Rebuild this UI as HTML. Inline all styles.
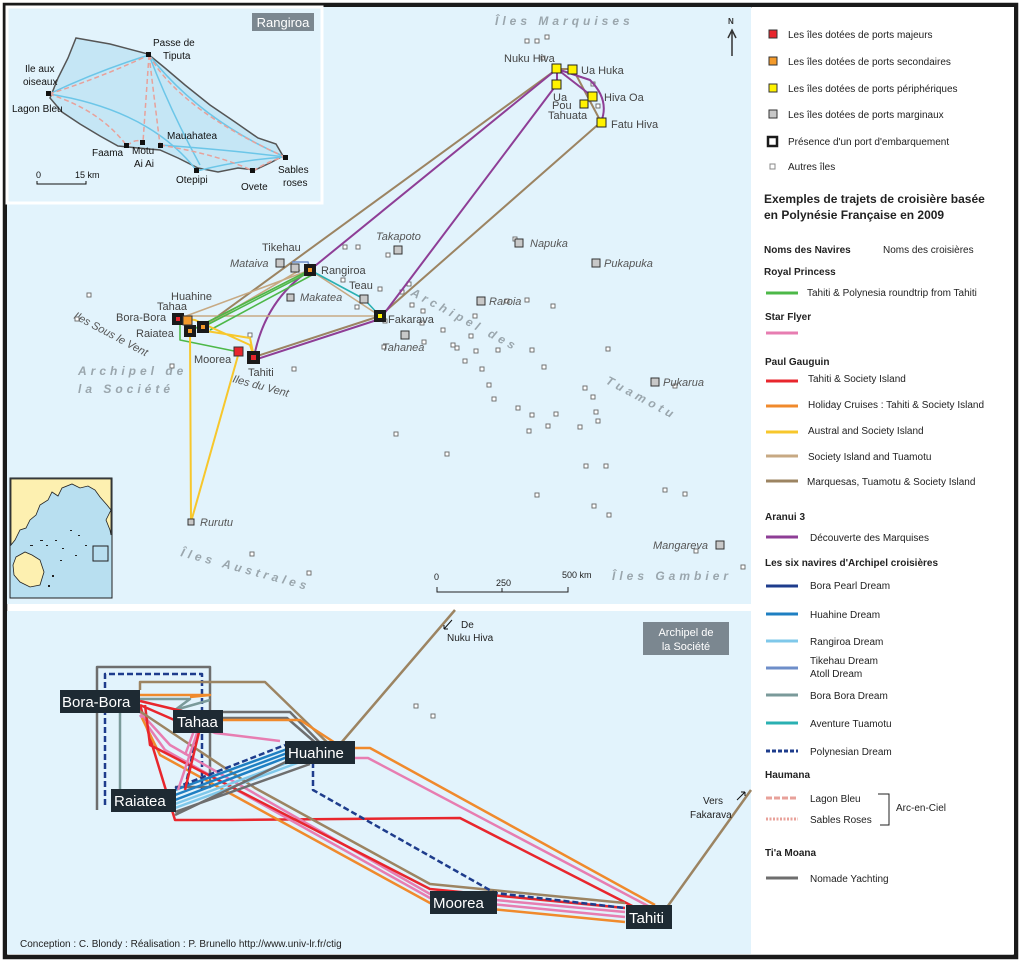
<!DOCTYPE html>
<html><head><meta charset="utf-8"><style>
html,body{margin:0;padding:0;background:#fff}
svg{display:block}
text{font-family:"Liberation Sans",sans-serif}
</style></head><body>
<svg width="1024" height="965" viewBox="0 0 1024 965" xmlns="http://www.w3.org/2000/svg">
<rect width="1024" height="965" fill="#fff"/>
<rect x="5" y="5" width="1011" height="952" fill="none" stroke="#1a1a1a" stroke-width="4.5"/>
<rect x="7" y="7" width="744" height="597" fill="#e2f3fc"/>
<rect x="7" y="611" width="744" height="343" fill="#e2f3fc"/>
<rect x="752" y="7" width="262" height="947" fill="#fff"/>

<!-- Rangiroa inset -->
<rect x="7" y="7" width="315" height="196" fill="#e2f3fc" stroke="#fff" stroke-width="3"/>
<path d="M76,38 L110,44 L148,54 L165,68 L185,85 L210,105 L235,122 L258,138 L276,144 L283,156 L272,162 L255,170 L238,168 L218,172 L198,168 L178,158 L160,150 L138,148 L118,146 L100,136 L80,124 L62,112 L50,98 L58,78 L68,58 Z" fill="#c5e6f5" stroke="#555" stroke-width="1.5"/>
<g fill="none" stroke="#6cc6e8" stroke-width="1.5">
<path d="M49,94 Q100,70 149,55"/><path d="M149,55 Q200,120 285,157"/><path d="M149,55 Q170,110 200,165"/>
<path d="M49,94 Q150,110 197,171"/><path d="M197,171 Q240,160 285,157"/><path d="M160,145 Q230,150 285,157"/>
</g>
<g fill="none" stroke="#e8a19a" stroke-width="1.5" stroke-dasharray="5,3">
<path d="M49,94 Q100,78 149,55"/><path d="M149,55 L143,142"/><path d="M149,55 L160,145"/><path d="M149,55 Q180,110 285,157"/>
<path d="M49,94 Q100,110 127,146"/><path d="M127,146 Q135,138 143,142"/><path d="M160,145 Q220,155 253,171"/><path d="M253,171 Q270,160 285,157"/>
</g>
<g fill="#111"><rect x="146" y="52" width="5" height="5"/><rect x="46" y="91" width="5" height="5"/><rect x="124" y="143" width="5" height="5"/><rect x="140" y="140" width="5" height="5"/><rect x="158" y="143" width="5" height="5"/><rect x="194" y="168" width="5" height="5"/><rect x="250" y="168" width="5" height="5"/><rect x="283" y="155" width="5" height="5"/></g>
<g font-size="10" fill="#111">
<text x="153" y="46">Passe de</text><text x="163" y="59">Tiputa</text>
<text x="25" y="72">Ile aux</text><text x="23" y="85">oiseaux</text>
<text x="12" y="112">Lagon Bleu</text>
<text x="167" y="139">Mauahatea</text>
<text x="92" y="156">Faama</text><text x="132" y="154">Motu</text><text x="134" y="167">Ai Ai</text>
<text x="176" y="183">Otepipi</text><text x="241" y="190">Ovete</text>
<text x="278" y="173">Sables</text><text x="283" y="186">roses</text>
<text x="36" y="178" font-size="9">0</text><text x="75" y="178" font-size="9">15 km</text>
</g>
<path d="M37,181 V184 H86 V181" fill="none" stroke="#111"/>
<rect x="252" y="13" width="62" height="18" fill="#7b8790"/>
<text x="283" y="27" font-size="13" fill="#fff" text-anchor="middle">Rangiroa</text>

<!-- Pacific inset -->
<rect x="10" y="478" width="102" height="120" fill="#b8dff0" stroke="#222"/>
<path d="M11,479 H111 V510 L107,505 L100,497 L95,490 L88,486 L80,488 L72,484 L62,488 L58,496 L52,492 L48,500 L40,505 L36,515 L30,520 L26,528 L20,530 L15,540 L11,545 Z" fill="#fdf0b0" stroke="#222" stroke-width="0.8"/>
<path d="M111,510 L106,520 L110,530 L111,535Z" fill="#fdf0b0" stroke="#222" stroke-width="0.8"/>
<path d="M16,557 L25,552 L32,555 L40,560 L44,572 L40,585 L30,587 L20,582 L14,575 L13,565Z" fill="#fdf0b0" stroke="#222" stroke-width="0.8"/>
<g fill="#222"><rect x="46" y="545" width="2" height="1"/><rect x="55" y="540" width="2" height="1"/><rect x="62" y="548" width="2" height="1"/><rect x="70" y="530" width="2" height="1"/><rect x="78" y="535" width="2" height="1"/><rect x="85" y="545" width="2" height="1"/><rect x="75" y="555" width="2" height="1"/><rect x="60" y="560" width="2" height="1"/><rect x="52" y="575" width="2" height="2"/><rect x="48" y="585" width="2" height="2"/><rect x="40" y="540" width="3" height="1"/><rect x="30" y="545" width="3" height="1"/></g>
<rect x="93" y="546" width="15" height="15" fill="none" stroke="#222"/>

<!-- top map text -->
<g font-size="12" fill="#9aa6ad" font-weight="bold" font-style="italic" letter-spacing="4">
<text x="495" y="25">Îles Marquises</text>
<text x="78" y="375">Archipel de</text><text x="78" y="393">la Société</text>
<text x="612" y="580">Îles Gambier</text>
<text x="180" y="556" transform="rotate(15 180 556)">Îles Australes</text>
<text x="410" y="295" transform="rotate(28 410 295)">Archipel des</text>
<text x="605" y="383" transform="rotate(28 605 383)">Tuamotu</text>
</g>
<g font-size="11" fill="#555" font-style="italic">
<text x="73" y="318" transform="rotate(28 73 318)">Iles Sous le Vent</text>
<text x="232" y="382" transform="rotate(15 232 382)">Iles du Vent</text>
</g>
<text x="728" y="24" font-size="8" font-weight="bold" fill="#333">N</text>
<path d="M732,56 V32 M728,38 L732,30 L736,38" stroke="#333" stroke-width="1.5" fill="none"/>
<path d="M437,587 V592 H568 V587 M502,588 V592" fill="none" stroke="#222"/>
<g font-size="9" fill="#222"><text x="434" y="580">0</text><text x="496" y="586">250</text><text x="562" y="578">500 km</text></g>

<g fill="#fff" stroke="#666" stroke-width="0.9">
<rect x="525" y="39" width="4" height="4"/><rect x="535" y="39" width="4" height="4"/><rect x="545" y="35" width="4" height="4"/>
<rect x="541" y="56" width="4" height="4"/><rect x="591" y="82" width="4" height="4"/><rect x="596" y="104" width="4" height="4"/>
<rect x="87" y="293" width="4" height="4"/><rect x="75" y="317" width="4" height="4"/><rect x="170" y="364" width="4" height="4"/>
<rect x="248" y="333" width="4" height="4"/><rect x="292" y="367" width="4" height="4"/><rect x="343" y="245" width="4" height="4"/><rect x="356" y="245" width="4" height="4"/>
<rect x="386" y="253" width="4" height="4"/><rect x="341" y="278" width="4" height="4"/><rect x="378" y="287" width="4" height="4"/><rect x="400" y="290" width="4" height="4"/>
<rect x="407" y="282" width="4" height="4"/><rect x="410" y="303" width="4" height="4"/><rect x="421" y="309" width="4" height="4"/><rect x="383" y="319" width="4" height="4"/>
<rect x="355" y="305" width="4" height="4"/><rect x="420" y="321" width="4" height="4"/><rect x="441" y="328" width="4" height="4"/><rect x="469" y="334" width="4" height="4"/>
<rect x="473" y="314" width="4" height="4"/><rect x="455" y="346" width="4" height="4"/><rect x="474" y="349" width="4" height="4"/><rect x="463" y="359" width="4" height="4"/>
<rect x="480" y="367" width="4" height="4"/><rect x="487" y="383" width="4" height="4"/><rect x="492" y="397" width="4" height="4"/><rect x="496" y="348" width="4" height="4"/>
<rect x="451" y="343" width="4" height="4"/><rect x="422" y="340" width="4" height="4"/><rect x="382" y="345" width="4" height="4"/><rect x="505" y="299" width="4" height="4"/>
<rect x="525" y="298" width="4" height="4"/><rect x="551" y="304" width="4" height="4"/><rect x="513" y="237" width="4" height="4"/><rect x="530" y="348" width="4" height="4"/>
<rect x="542" y="365" width="4" height="4"/><rect x="516" y="406" width="4" height="4"/><rect x="530" y="413" width="4" height="4"/><rect x="546" y="424" width="4" height="4"/>
<rect x="554" y="412" width="4" height="4"/><rect x="527" y="429" width="4" height="4"/><rect x="578" y="425" width="4" height="4"/><rect x="591" y="395" width="4" height="4"/>
<rect x="583" y="386" width="4" height="4"/><rect x="594" y="410" width="4" height="4"/><rect x="596" y="419" width="4" height="4"/><rect x="606" y="347" width="4" height="4"/>
<rect x="673" y="384" width="4" height="4"/><rect x="394" y="432" width="4" height="4"/><rect x="445" y="452" width="4" height="4"/><rect x="584" y="464" width="4" height="4"/>
<rect x="604" y="464" width="4" height="4"/><rect x="535" y="493" width="4" height="4"/><rect x="592" y="504" width="4" height="4"/><rect x="663" y="488" width="4" height="4"/>
<rect x="683" y="492" width="4" height="4"/><rect x="607" y="513" width="4" height="4"/><rect x="250" y="552" width="4" height="4"/><rect x="307" y="571" width="4" height="4"/>
<rect x="741" y="565" width="4" height="4"/><rect x="694" y="549" width="4" height="4"/><rect x="414" y="704" width="4" height="4"/><rect x="431" y="714" width="4" height="4"/>
</g>

<g fill="none" stroke-width="2" stroke-linejoin="round">
<path d="M203,327 L557,69" stroke="#9c8462"/>
<path d="M254,357 L380,316 L601,122" stroke="#9c8462"/>
<path d="M601,122 L573,69 L557,69" stroke="#9c8462"/>
<path d="M254,357 Q265,300 310,270 L557,69" stroke="#8e3e96"/>
<path d="M254,360 L380,319 L557,84 L557,69 L590,80 Q610,100 601,122 M557,69 L593,97" stroke="#8e3e96"/>
<path d="M178,319 L310,270 L380,316 L178,316 M190,331 L310,270 M203,327 L300,270" stroke="#c7a983" stroke-width="1.6"/>
<path d="M180,320 L180,340 L239,352 M190,331 L310,270 M203,327 L310,272 M210,330 L312,275" stroke="#4db848" stroke-width="1.6"/>
<path d="M190,331 L191,522 L239,352 M178,318 L195,320 L250,345 L254,357 M200,330 L250,338 L254,357" stroke="#f7c72c" stroke-width="2"/>
<path d="M310,270 L364,299 L380,316" stroke="#2ab0b2" stroke-width="1.6"/>
<path d="M292,262 L308,262 L310,270" stroke="#6e8ec9" stroke-width="1.6"/>
</g>
<g fill="#c8c8c8" stroke="#333" stroke-width="1">
<rect x="276" y="259" width="8" height="8"/><rect x="291" y="264" width="8" height="8"/><rect x="287" y="294" width="7" height="7"/>
<rect x="360" y="295" width="8" height="8"/><rect x="401" y="331" width="8" height="8"/><rect x="394" y="246" width="8" height="8"/>
<rect x="515" y="239" width="8" height="8"/><rect x="592" y="259" width="8" height="8"/><rect x="477" y="297" width="8" height="8"/>
<rect x="651" y="378" width="8" height="8"/><rect x="716" y="541" width="8" height="8"/><rect x="188" y="519" width="6" height="6"/>
</g>
<g fill="#fff200" stroke="#222" stroke-width="1">
<rect x="552" y="64" width="9" height="9"/><rect x="568" y="65" width="9" height="9"/><rect x="552" y="80" width="9" height="9"/>
<rect x="588" y="92" width="9" height="9"/><rect x="580" y="100" width="8" height="8"/><rect x="597" y="118" width="9" height="9"/>
</g>
<g fill="#1a1a1a"><rect x="304" y="264" width="12" height="12"/><rect x="374" y="310" width="12" height="12"/><rect x="172" y="313" width="12" height="12"/><rect x="184" y="325" width="12" height="12"/><rect x="197" y="321" width="12" height="12"/><rect x="247" y="351" width="13" height="13"/></g>
<g><rect x="308" y="268" width="4" height="4" fill="#f39a2b"/><rect x="378" y="314" width="4" height="4" fill="#fff200"/><rect x="176" y="317" width="4" height="4" fill="#e8262d"/><rect x="188" y="329" width="4" height="4" fill="#f39a2b"/><rect x="201" y="325" width="4" height="4" fill="#f39a2b"/><rect x="251" y="355" width="5" height="5" fill="#e8262d"/></g>
<rect x="183" y="316" width="9" height="9" fill="#f39a2b" stroke="#333"/>
<rect x="234" y="347" width="9" height="9" fill="#e8262d" stroke="#333"/>

<g font-size="11" fill="#444">
<text x="504" y="62">Nuku Hiva</text><text x="581" y="74">Ua Huka</text><text x="553" y="101">Ua</text><text x="552" y="109">Pou</text>
<text x="548" y="119">Tahuata</text><text x="604" y="101">Hiva Oa</text><text x="611" y="128">Fatu Hiva</text>
<text x="262" y="251">Tikehau</text><text x="321" y="274">Rangiroa</text><text x="349" y="289">Teau</text><text x="388" y="323">Fakarava</text>
<text x="171" y="300">Huahine</text><text x="157" y="310">Tahaa</text><text x="116" y="321">Bora-Bora</text><text x="136" y="337">Raiatea</text>
<text x="194" y="363">Moorea</text><text x="248" y="376">Tahiti</text>
</g>
<g font-size="11" fill="#555" font-style="italic">
<text x="230" y="267">Mataiva</text><text x="300" y="301">Makatea</text><text x="376" y="240">Takapoto</text><text x="530" y="247">Napuka</text>
<text x="604" y="267">Pukapuka</text><text x="489" y="305">Raroia</text><text x="382" y="351">Tahanea</text><text x="663" y="386">Pukarua</text>
<text x="653" y="549">Mangareva</text><text x="200" y="526">Rurutu</text>
</g>

<!-- bottom map -->
<g fill="none" stroke-width="2.5" stroke-linejoin="round">
<path d="M97,810 V667 H210 V787 H175" stroke="#6e6e6e"/>
<path d="M120,713 V805 H175" stroke="#7a9a9a"/>
<path d="M105,805 V674 H202 V790" stroke="#1e3c8c" stroke-dasharray="6,3"/>
<path d="M140,690 V682 H265 L335,750 L455,610" stroke="#9c8462"/>
<path d="M140,695 H210 L190,697" stroke="#f08a2c"/>
<path d="M222,712 H290 L325,748 M222,718 H287 L318,745" stroke="#6e6e6e"/>
<path d="M222,720 H300 L343,748 H370 L655,905" stroke="#f08a2c"/>
<path d="M222,724 H190 M222,724 H193 L215,733 L280,741 M355,758 H368 L650,907" stroke="#e77db1"/>
<path d="M140,699 H190 L175,710 L210,700" stroke="#7a9a9a"/>
<path d="M140,701 L215,719 M140,705 L195,729 M140,705 L175,820 L230,820 L460,818 L640,910" stroke="#e8262d"/>
<path d="M140,712 L170,745 L430,894 L625,912" stroke="#e77db1"/>
<path d="M140,715 L165,750 L430,898 L625,917" stroke="#e77db1"/>
<path d="M142,718 L160,755 L430,903 L625,922" stroke="#f08a2c"/>
<path d="M145,705 L150,745 L430,889 L625,908" stroke="#e8262d"/>
<path d="M135,708 L255,788 L430,884 L625,903" stroke="#9c8462"/>
<path d="M175,790 L290,748 M175,795 L290,752 M175,800 L290,756" stroke="#1e7fc2"/>
<path d="M175,804 L295,760 M175,808 L300,762" stroke="#7fc8ea"/>
<path d="M175,812 L310,764 M175,815 L290,760" stroke="#6e6e6e"/>
<path d="M175,788 L285,745 M202,712 L185,788 M313,762 L313,790 L495,893 L625,908" stroke="#1e3c8c" stroke-dasharray="6,3"/>
<path d="M185,755 L198,720 M178,790 L198,730" stroke="#e77db1"/>
<path d="M185,790 L200,728" stroke="#e8262d"/>
<path d="M665,910 L751,790" stroke="#9c8462" stroke-width="2.5"/>
</g>
<g fill="#1e2a33">
<rect x="60" y="690" width="80" height="23"/><rect x="173" y="710" width="50" height="23"/><rect x="285" y="741" width="70" height="23"/>
<rect x="111" y="789" width="65" height="23"/><rect x="430" y="891" width="67" height="23"/><rect x="626" y="905" width="46" height="24"/>
</g>
<g font-size="15" fill="#fff">
<text x="62" y="707">Bora-Bora</text><text x="177" y="727">Tahaa</text><text x="288" y="758">Huahine</text>
<text x="114" y="806">Raiatea</text><text x="433" y="908">Moorea</text><text x="629" y="923">Tahiti</text>
</g>
<rect x="643" y="622" width="86" height="33" fill="#7b8790"/>
<text x="686" y="636" font-size="11" fill="#fff" text-anchor="middle">Archipel de</text>
<text x="686" y="650" font-size="11" fill="#fff" text-anchor="middle">la Société</text>
<g font-size="10" fill="#222">
<text x="461" y="628">De</text><text x="447" y="641">Nuku Hiva</text>
<text x="703" y="804">Vers</text><text x="690" y="818">Fakarava</text>
<text x="20" y="947">Conception : C. Blondy : Réalisation : P. Brunello http://www.univ-lr.fr/ctig</text>
</g>
<path d="M452,620 L444,629 M444,629 V625 M444,629 H448" stroke="#111" fill="none"/>
<path d="M737,800 L745,792 M745,792 V796 M745,792 H741" stroke="#111" fill="none"/>

<!-- legend -->
<g font-size="10" fill="#222">
<rect x="769" y="30" width="8" height="8" fill="#e8262d" stroke="#333"/><text x="788" y="38">Les îles dotées de ports majeurs</text>
<rect x="769" y="57" width="8" height="8" fill="#f39a2b" stroke="#333"/><text x="788" y="65">Les îles dotées de ports secondaires</text>
<rect x="769" y="84" width="8" height="8" fill="#fff200" stroke="#333"/><text x="788" y="92">Les îles dotées de ports périphériques</text>
<rect x="769" y="110" width="8" height="8" fill="#c8c8c8" stroke="#333"/><text x="788" y="118">Les îles dotées de ports marginaux</text>
<rect x="768" y="137" width="9" height="9" fill="#fff" stroke="#1a1a1a" stroke-width="2.5"/><text x="788" y="145">Présence d'un port d'embarquement</text>
<rect x="770" y="164" width="5" height="5" fill="#fff" stroke="#888"/><text x="788" y="170">Autres îles</text>
<text x="764" y="203" font-size="12" font-weight="bold">Exemples de trajets de croisière basée</text>
<text x="764" y="219" font-size="12" font-weight="bold">en Polynésie Française en 2009</text>
<text x="764" y="253" font-weight="bold">Noms des Navires</text><text x="883" y="253">Noms des croisières</text>
<text x="764" y="275" font-weight="bold">Royal Princess</text>
<text x="807" y="296">Tahiti &amp; Polynesia roundtrip from Tahiti</text>
<text x="765" y="320" font-weight="bold">Star Flyer</text>
<text x="765" y="365" font-weight="bold">Paul Gauguin</text>
<text x="808" y="382">Tahiti &amp; Society Island</text>
<text x="808" y="408">Holiday Cruises : Tahiti &amp; Society Island</text>
<text x="808" y="434">Austral and Society Island</text>
<text x="808" y="460">Society Island and Tuamotu</text>
<text x="807" y="485">Marquesas, Tuamotu &amp; Society Island</text>
<text x="765" y="520" font-weight="bold">Aranui 3</text>
<text x="810" y="541">Découverte des Marquises</text>
<text x="765" y="566" font-weight="bold">Les six navires d'Archipel croisières</text>
<text x="810" y="589">Bora Pearl Dream</text>
<text x="810" y="618">Huahine Dream</text>
<text x="810" y="645">Rangiroa Dream</text>
<text x="810" y="664">Tikehau Dream</text><text x="810" y="677">Atoll Dream</text>
<text x="810" y="699">Bora Bora Dream</text>
<text x="810" y="727">Aventure Tuamotu</text>
<text x="810" y="755">Polynesian Dream</text>
<text x="765" y="778" font-weight="bold">Haumana</text>
<text x="810" y="802">Lagon Bleu</text><text x="810" y="823">Sables Roses</text>
<text x="896" y="811">Arc-en-Ciel</text>
<text x="765" y="856" font-weight="bold">Ti'a Moana</text>
<text x="810" y="882">Nomade Yachting</text>
</g>
<path d="M878,794 H889 V825 H880" fill="none" stroke="#222"/>
<g stroke-width="3">
<path d="M766,293 H798" stroke="#4db848"/>
<path d="M766,333 H798" stroke="#e77db1"/>
<path d="M766,381 H798" stroke="#e8262d"/>
<path d="M766,406 H798" stroke="#f08a2c"/>
<path d="M766,432 H798" stroke="#f7c72c"/>
<path d="M766,456 H798" stroke="#c7a983"/>
<path d="M766,481 H798" stroke="#9c8462"/>
<path d="M766,537 H798" stroke="#8e3e96"/>
<path d="M766,586 H798" stroke="#1e3c8c"/>
<path d="M766,614 H798" stroke="#1e7fc2"/>
<path d="M766,641 H798" stroke="#7fc8ea"/>
<path d="M766,668 H798" stroke="#6e8ec9"/>
<path d="M766,695 H798" stroke="#7a9a9a"/>
<path d="M766,723 H798" stroke="#2ab0b2"/>
<path d="M766,751 H798" stroke="#1e3c8c" stroke-dasharray="4,2"/>
<path d="M766,798 H798" stroke="#e8a19a" stroke-dasharray="6,2"/>
<path d="M766,819 H798" stroke="#e8a19a" stroke-dasharray="2,1.5"/>
<path d="M766,878 H798" stroke="#6e6e6e"/>
</g>
</svg>
</body></html>
